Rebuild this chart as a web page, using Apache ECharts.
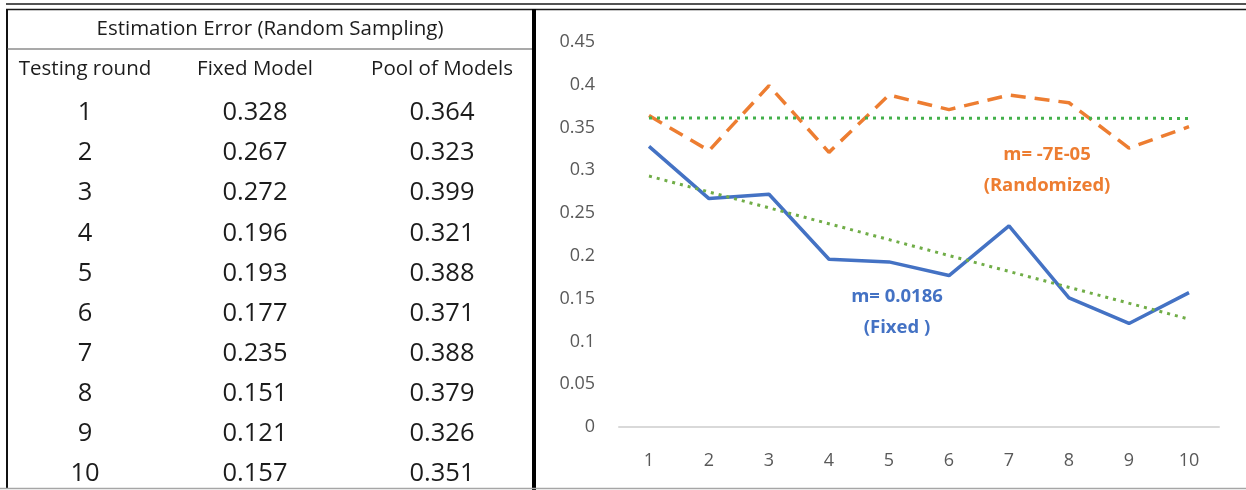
<!DOCTYPE html>
<html>
<head>
<meta charset="utf-8">
<script src="https://cdn.jsdelivr.net/npm/echarts@6/dist/echarts.min.js"></script>
<style>
  html, body { margin: 0; padding: 0; background: #ffffff; }
  #chart { width: 1246px; height: 490px; }
</style>
</head>
<body>
<div id="chart"></div>
<script>
// ---- data ----
const tableTitle = 'Estimation Error (Random Sampling)';
const columnHeaders = ['Testing round', 'Fixed Model', 'Pool of Models'];
const rounds = ['1', '2', '3', '4', '5', '6', '7', '8', '9', '10'];
const fixedModel = [0.328, 0.267, 0.272, 0.196, 0.193, 0.177, 0.235, 0.151, 0.121, 0.157];
const poolOfModels = [0.364, 0.323, 0.399, 0.321, 0.388, 0.371, 0.388, 0.379, 0.326, 0.351];
// linear trend lines: value at first and last round
const fixedTrendEnds = [0.2933, 0.1261];
const poolTrendEnds = [0.3613, 0.3607];
const fixedSlopeText = ['m= 0.0186', '(Fixed )'];
const poolSlopeText = ['m= -7E-05', '(Randomized)'];
const yTickLabels = ['0', '0.05', '0.1', '0.15', '0.2', '0.25', '0.3', '0.35', '0.4', '0.45'];

// ---- styles ----
const FONT = '"Open Sans", Lato, sans-serif';
const BLUE = '#4472C4';
const ORANGE = '#ED7D31';
const GREEN_POOL = '#42B04A';
const GREEN_FIXED = '#70AD47';
const TEXT = '#1c1c1c';

// ---- table drawn as graphic elements ----
const colX = [85, 255, 442];
const rowY0 = 113, rowStep = 40.1;
const graphics = [];

// frame lines
graphics.push(
  { type: 'line', shape: { x1: 6, y1: 4, x2: 1246, y2: 4 }, style: { stroke: '#1a1a1a', lineWidth: 1.6 } },
  { type: 'line', shape: { x1: 6, y1: 9.5, x2: 1246, y2: 9.5 }, style: { stroke: '#1a1a1a', lineWidth: 1.6 } },
  { type: 'line', shape: { x1: 7, y1: 9, x2: 7, y2: 488 }, style: { stroke: '#111', lineWidth: 2 } },
  { type: 'line', shape: { x1: 7, y1: 49, x2: 532, y2: 49 }, style: { stroke: '#555', lineWidth: 1.2 } },
  { type: 'line', shape: { x1: 534, y1: 9, x2: 534, y2: 490 }, style: { stroke: '#000', lineWidth: 4 } },
  { type: 'line', shape: { x1: 0, y1: 488.5, x2: 1246, y2: 488.5 }, style: { stroke: '#a6a6a6', lineWidth: 1.5 } }
);

graphics.push({
  type: 'text', x: 270, y: 29,
  style: { text: tableTitle, font: '20.5px ' + FONT, fill: TEXT, align: 'center', verticalAlign: 'middle' }
});
columnHeaders.forEach((h, i) => {
  graphics.push({
    type: 'text', x: colX[i], y: 69,
    style: { text: h, font: '20.5px ' + FONT, fill: TEXT, align: 'center', verticalAlign: 'middle' }
  });
});
rounds.forEach((r, i) => {
  const y = rowY0 + rowStep * i;
  const cells = [r, fixedModel[i].toFixed(3), poolOfModels[i].toFixed(3)];
  cells.forEach((c, j) => {
    graphics.push({
      type: 'text', x: colX[j], y: y,
      style: { text: c, font: '25.5px ' + FONT, fill: TEXT, align: 'center', verticalAlign: 'middle' }
    });
  });
});

// slope annotations
function slopeLabel(lines, x, y, color) {
  lines.forEach((t, i) => {
    graphics.push({
      type: 'text', x: x, y: y + i * 31,
      style: { text: t, font: 'bold 18.5px ' + FONT, fill: color, align: 'center', verticalAlign: 'middle' }
    });
  });
}
slopeLabel(poolSlopeText, 1047, 155, ORANGE);
slopeLabel(fixedSlopeText, 897, 297, BLUE);

// ---- chart ----
const chart = echarts.init(document.getElementById('chart'), null, { renderer: 'canvas' });
chart.setOption({
  backgroundColor: '#ffffff',
  animation: false,
  textStyle: { fontFamily: FONT },
  grid: { left: 619, right: 27, top: 42, bottom: 63, containLabel: false },
  xAxis: {
    type: 'category',
    data: rounds,
    boundaryGap: true,
    axisLine: { lineStyle: { color: '#d9d9d9', width: 2 } },
    axisTick: { show: false },
    axisLabel: { color: '#595959', fontSize: 18, margin: 25, fontFamily: FONT }
  },
  yAxis: {
    type: 'value',
    min: 0,
    max: 0.45,
    interval: 0.05,
    splitLine: { show: false },
    axisLine: { show: false },
    axisTick: { show: false },
    axisLabel: {
      color: '#595959', fontSize: 18, margin: 24, fontFamily: FONT,
      formatter: (v) => yTickLabels[Math.round(v / 0.05)]
    }
  },
  series: [
    {
      name: 'Pool of Models',
      type: 'line',
      data: poolOfModels,
      symbol: 'none',
      z: 2,
      lineStyle: { color: ORANGE, width: 3.5, type: [15, 9], cap: 'butt' }
    },
    {
      name: 'Fixed Model',
      type: 'line',
      data: fixedModel,
      symbol: 'none',
      z: 2,
      lineStyle: { color: BLUE, width: 3.5, type: 'solid' }
    },
    {
      name: 'Pool trend',
      type: 'line',
      data: [[rounds[0], poolTrendEnds[0]], [rounds[rounds.length - 1], poolTrendEnds[1]]],
      symbol: 'none',
      z: 3,
      lineStyle: { color: GREEN_POOL, width: 3, type: [3, 5], cap: 'butt' }
    },
    {
      name: 'Fixed trend',
      type: 'line',
      data: [[rounds[0], fixedTrendEnds[0]], [rounds[rounds.length - 1], fixedTrendEnds[1]]],
      symbol: 'none',
      z: 3,
      lineStyle: { color: GREEN_FIXED, width: 3, type: [3, 5], cap: 'butt' }
    }
  ],
  graphic: graphics
});
</script>
</body>
</html>
